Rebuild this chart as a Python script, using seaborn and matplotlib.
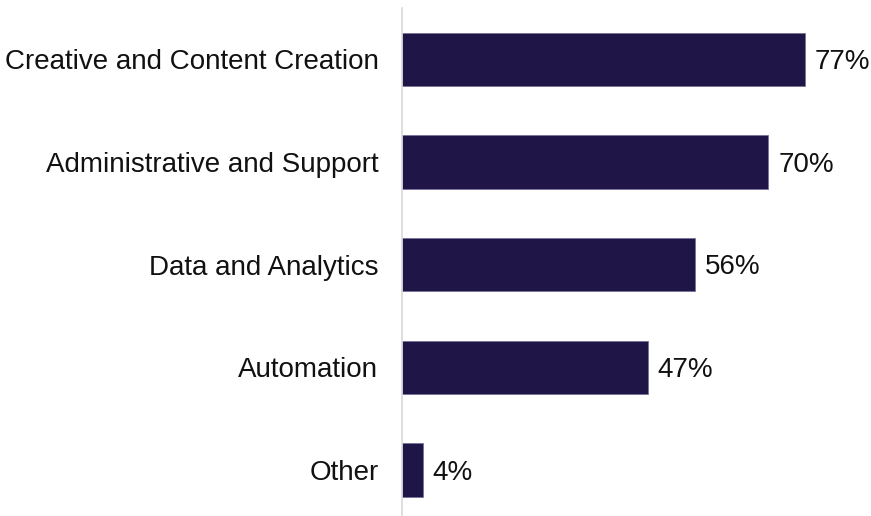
import matplotlib
matplotlib.use("Agg")
import matplotlib.pyplot as plt
import seaborn as sns
import pandas as pd

categories = [
    "Creative and Content Creation",
    "Administrative and Support",
    "Data and Analytics",
    "Automation",
    "Other",
]
values = [77, 70, 56, 47, 4]
value_labels = ["77%", "70%", "56%", "47%", "4%"]

df = pd.DataFrame({"category": categories, "value": values})

sns.set_theme(style="white")
plt.rcParams["font.family"] = ["Liberation Sans", "DejaVu Sans"]

fig = plt.figure(figsize=(8.71, 5.16), dpi=100)
ax = fig.add_axes([402 / 871, 1 - 515 / 516, (871 - 402) / 871, (515 - 8) / 516])

sns.barplot(
    data=df, x="value", y="category", orient="h",
    color="#201547", saturation=1, width=0.52,
    edgecolor="#77739a", linewidth=0.6, ax=ax,
)

for bar, lab in zip(ax.patches, value_labels):
    ax.annotate(
        lab,
        (bar.get_width(), bar.get_y() + bar.get_height() / 2),
        xytext=(7, -2), textcoords="offset points",
        va="center", ha="left", fontsize=20, color="#111111",
    )

ax.set_xlim(0, 89.6)
ax.set_ylim(4.44, -0.5)
ax.set_xlabel("")
ax.set_ylabel("")
ax.set_xticks([])
ax.tick_params(axis="y", length=0, pad=17, labelsize=20, labelcolor="#111111")
for lbl in ax.get_yticklabels():
    lbl.set_va("center_baseline")
for s in ["top", "right", "bottom"]:
    ax.spines[s].set_visible(False)
ax.spines["left"].set_color("#d9d9d9")
ax.spines["left"].set_linewidth(1.2)

fig.savefig("out.png", dpi=100)
